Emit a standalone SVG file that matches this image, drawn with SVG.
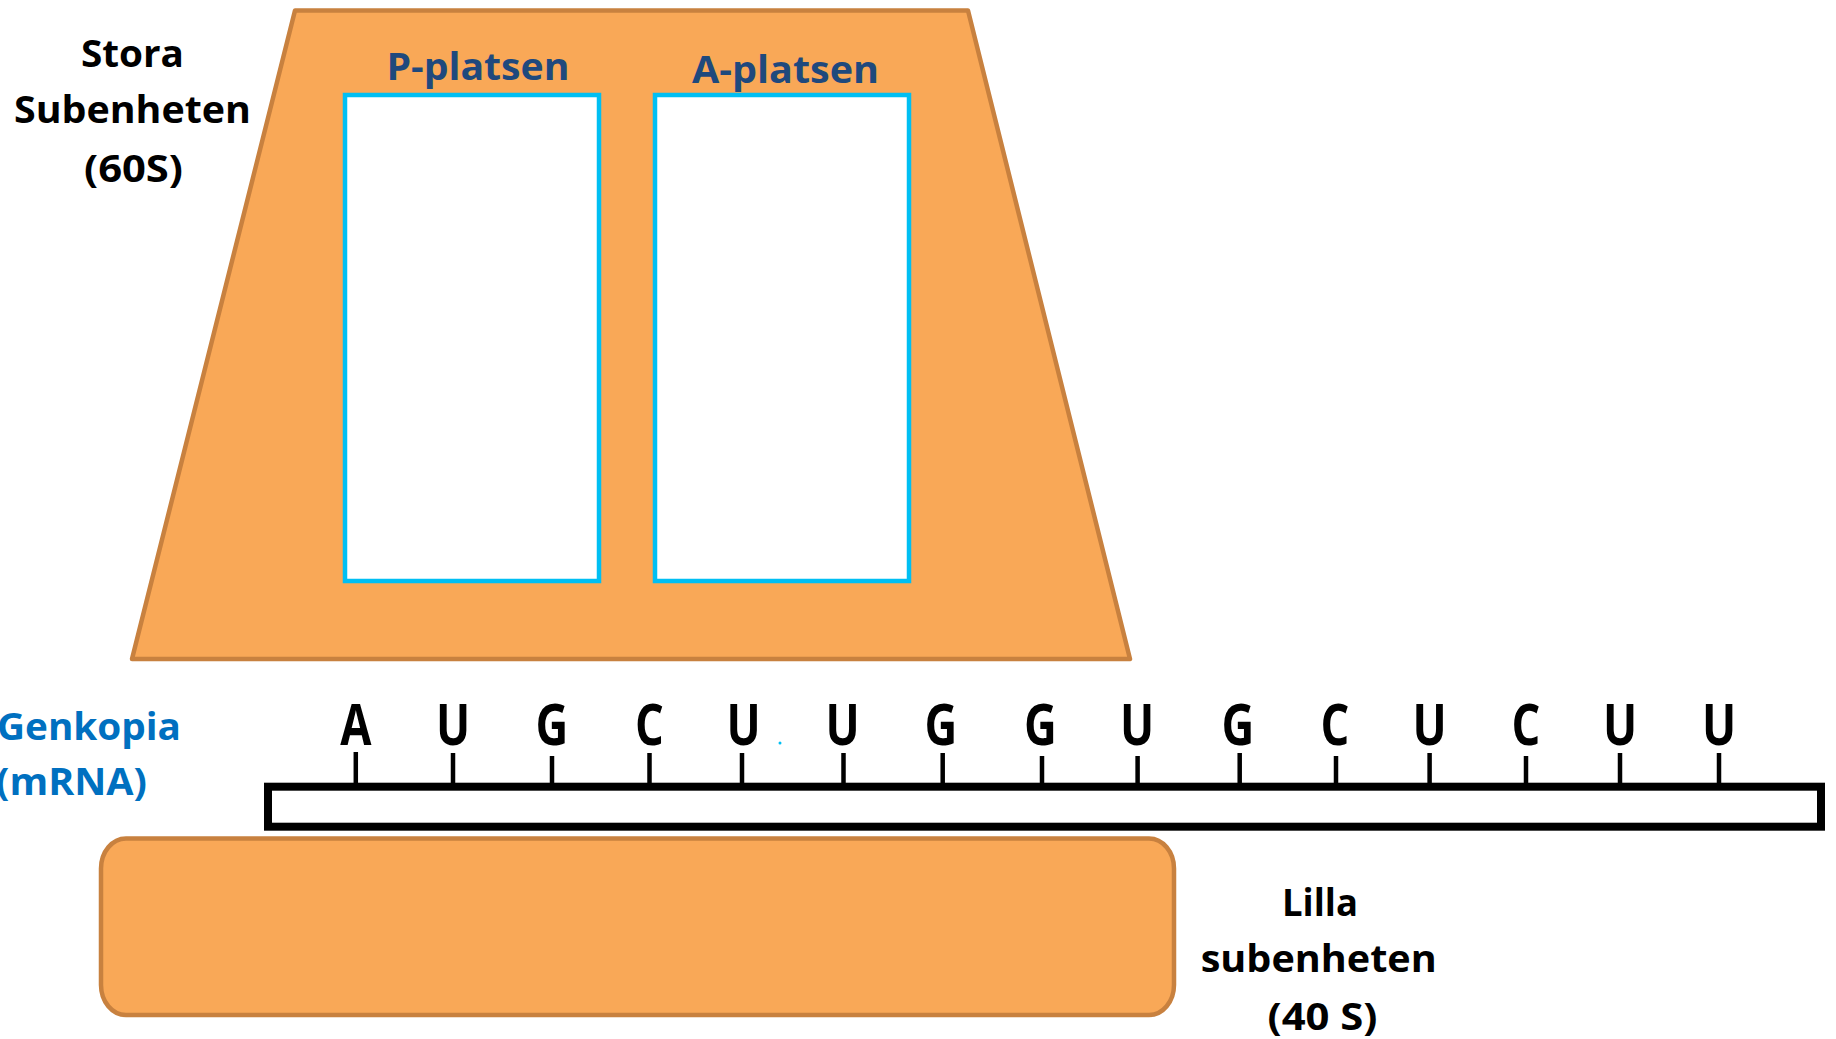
<svg xmlns="http://www.w3.org/2000/svg" width="1836" height="1039" viewBox="0 0 1836 1039">
  <style>
    .sub { fill: #F9A857; stroke: #C8813F; stroke-width: 4.5; stroke-linejoin: round; }
    .site { fill: #FFFFFF; stroke: #00BFF3; stroke-width: 4.5; }
    .lbl { font-family: "Open Sans", "Liberation Sans", sans-serif; font-weight: 700; font-size: 38px; }
    .black { fill: #000000; text-anchor: middle; }
    .site-lbl { fill: #1F497D; text-anchor: middle; }
    .mrna-lbl { fill: #0070C0; text-anchor: start; }
    .base { font-family: "Open Sans", "Liberation Sans", sans-serif; font-weight: 700; font-size: 58px; fill: #000000; text-anchor: middle; }
    .tick { stroke: #000000; stroke-width: 4.5; }
    .strand { fill: #FFFFFF; stroke: #000000; stroke-width: 8; }
  </style>

  <!-- large subunit with the two binding sites -->
  <g id="large-subunit">
    <polygon class="sub" points="295,10.5 968,10.5 1130,659 132,659"/>
    <text class="lbl black" x="132.5" y="66.7" textLength="103" lengthAdjust="spacingAndGlyphs">Stora</text>
    <text class="lbl black" x="132.5" y="123.3" textLength="237" lengthAdjust="spacingAndGlyphs">Subenheten</text>
    <text class="lbl black" x="133.5" y="181.7" textLength="99" lengthAdjust="spacingAndGlyphs">(60S)</text>
  </g>

  <g id="p-site">
    <rect class="site" x="345" y="95" width="254" height="486"/>
    <text class="lbl site-lbl" x="478" y="80" textLength="183" lengthAdjust="spacingAndGlyphs">P-platsen</text>
  </g>

  <g id="a-site">
    <rect class="site" x="655" y="95" width="254" height="486"/>
    <text class="lbl site-lbl" x="785.5" y="83" textLength="187" lengthAdjust="spacingAndGlyphs">A-platsen</text>
  </g>

  <!-- messenger RNA strand with its bases -->
  <g id="mrna">
    <text class="lbl mrna-lbl" x="-3" y="740" textLength="184" lengthAdjust="spacingAndGlyphs">Genkopia</text>
    <text class="lbl mrna-lbl" x="-4" y="795" textLength="151" lengthAdjust="spacingAndGlyphs">(mRNA)</text>
    <rect class="strand" x="268" y="786.7" width="1553" height="40"/>
    <g id="ticks">
      <line class="tick" x1="355.8" y1="752" x2="355.8" y2="786"/>
      <line class="tick" x1="453" y1="753" x2="453" y2="786"/>
      <line class="tick" x1="552" y1="756" x2="552" y2="786"/>
      <line class="tick" x1="649.5" y1="753" x2="649.5" y2="786"/>
      <line class="tick" x1="742" y1="753" x2="742" y2="786"/>
      <line class="tick" x1="843.5" y1="753" x2="843.5" y2="786"/>
      <line class="tick" x1="942.7" y1="753" x2="942.7" y2="786"/>
      <line class="tick" x1="1042" y1="756" x2="1042" y2="786"/>
      <line class="tick" x1="1137.6" y1="756" x2="1137.6" y2="786"/>
      <line class="tick" x1="1239.7" y1="753" x2="1239.7" y2="786"/>
      <line class="tick" x1="1336" y1="756" x2="1336" y2="786"/>
      <line class="tick" x1="1429.6" y1="753" x2="1429.6" y2="786"/>
      <line class="tick" x1="1526" y1="756" x2="1526" y2="786"/>
      <line class="tick" x1="1620" y1="753" x2="1620" y2="786"/>
      <line class="tick" x1="1719" y1="753" x2="1719" y2="786"/>
    </g>
    <g id="bases">
      <text class="base" transform="translate(355.8 745) scale(0.78 1)">A</text>
      <text class="base" transform="translate(453 745) scale(0.78 1)">U</text>
      <text class="base" transform="translate(552 745) scale(0.78 1)">G</text>
      <text class="base" transform="translate(649.5 745) scale(0.78 1)">C</text>
      <text class="base" transform="translate(743.5 745) scale(0.78 1)">U</text>
      <text class="base" transform="translate(842.7 745) scale(0.78 1)">U</text>
      <text class="base" transform="translate(941 745) scale(0.78 1)">G</text>
      <text class="base" transform="translate(1040.5 745) scale(0.78 1)">G</text>
      <text class="base" transform="translate(1137 745) scale(0.78 1)">U</text>
      <text class="base" transform="translate(1238 745) scale(0.78 1)">G</text>
      <text class="base" transform="translate(1335 745) scale(0.78 1)">C</text>
      <text class="base" transform="translate(1429.6 745) scale(0.78 1)">U</text>
      <text class="base" transform="translate(1526 745) scale(0.78 1)">C</text>
      <text class="base" transform="translate(1620 745) scale(0.78 1)">U</text>
      <text class="base" transform="translate(1719 745) scale(0.78 1)">U</text>
    </g>
    <circle cx="780" cy="743" r="1.5" fill="#00BFF3"/>
  </g>

  <!-- small subunit -->
  <g id="small-subunit">
    <rect class="sub" x="101" y="838.5" width="1073" height="176.5" rx="25" ry="30"/>
    <text class="lbl black" x="1320" y="916" textLength="76" lengthAdjust="spacingAndGlyphs">Lilla</text>
    <text class="lbl black" x="1318.7" y="971.7" textLength="236" lengthAdjust="spacingAndGlyphs">subenheten</text>
    <text class="lbl black" x="1322.5" y="1030" textLength="110" lengthAdjust="spacingAndGlyphs">(40 S)</text>
  </g>
</svg>
